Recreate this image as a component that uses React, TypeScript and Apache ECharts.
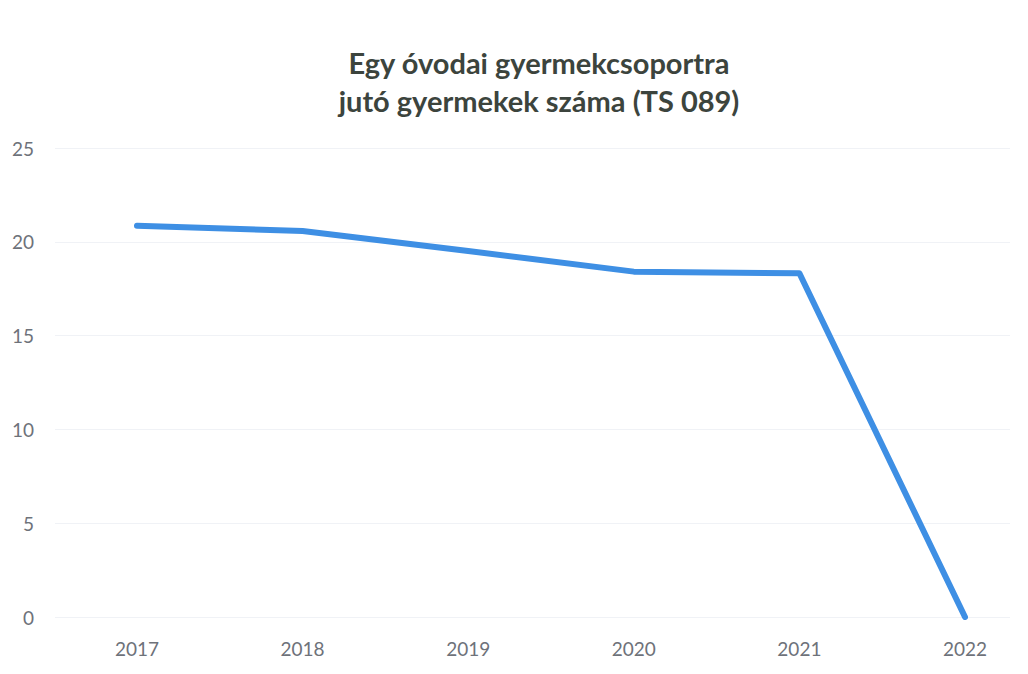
import React, { useEffect, useRef } from "react";
import * as echarts from "echarts";

const titleLines = ["Egy óvodai gyermekcsoportra", "jutó gyermekek száma (TS 089)"];
const years = ["2017", "2018", "2019", "2020", "2021", "2022"];
const values = [20.86, 20.58, 19.51, 18.41, 18.32, 0];
const yMin = 0;
const yMax = 25;
const yStep = 5;

export default function App() {
  const ref = useRef<HTMLDivElement>(null);
  useEffect(() => {
    if (!ref.current) return;
    const chart = echarts.init(ref.current, null, { renderer: "svg" });
    const labelFont = { fontFamily: "Lato", fontSize: 19, color: "#6e727a" };
    chart.setOption({
      animation: false,
      backgroundColor: "#ffffff",
      graphic: [
        {
          type: "text",
          x: 539,
          y: 81,
          style: {
            text: titleLines.join("\n"),
            fontFamily: "Lato",
            fontWeight: "bold",
            fontSize: 29,
            lineHeight: 38,
            fill: "#3c443d",
            textAlign: "center",
            textVerticalAlign: "middle",
          },
        },
      ],
      grid: [
        { left: 55, right: 18, top: 148, bottom: 57 },
        { left: 137, right: 63, top: 148, bottom: 57 },
      ],
      xAxis: [
        { type: "value", gridIndex: 0, show: false, min: 0, max: 1 },
        {
          type: "category",
          gridIndex: 1,
          data: years,
          boundaryGap: false,
          axisLine: { show: false },
          axisTick: { show: false },
          splitLine: { show: false },
          axisLabel: { ...labelFont, margin: 22 },
        },
      ],
      yAxis: [
        {
          type: "value",
          gridIndex: 0,
          min: yMin,
          max: yMax,
          interval: yStep,
          axisLine: { show: false },
          axisTick: { show: false },
          splitLine: { show: true, lineStyle: { color: "#f0f2f6", width: 1 } },
          axisLabel: { ...labelFont, margin: 21 },
        },
        {
          type: "value",
          gridIndex: 1,
          min: yMin,
          max: yMax,
          interval: yStep,
          show: false,
          splitLine: { show: false },
        },
      ],
      series: [
        {
          type: "line",
          xAxisIndex: 1,
          yAxisIndex: 1,
          data: values,
          symbol: "none",
          lineStyle: { color: "#3e8fe4", width: 6, join: "round", cap: "round" },
        },
      ],
    });
    return () => chart.dispose();
  }, []);
  return (
    <div
      ref={ref}
      style={{ position: "absolute", left: 0, top: 0, width: 1028, height: 674 }}
    />
  );
}
